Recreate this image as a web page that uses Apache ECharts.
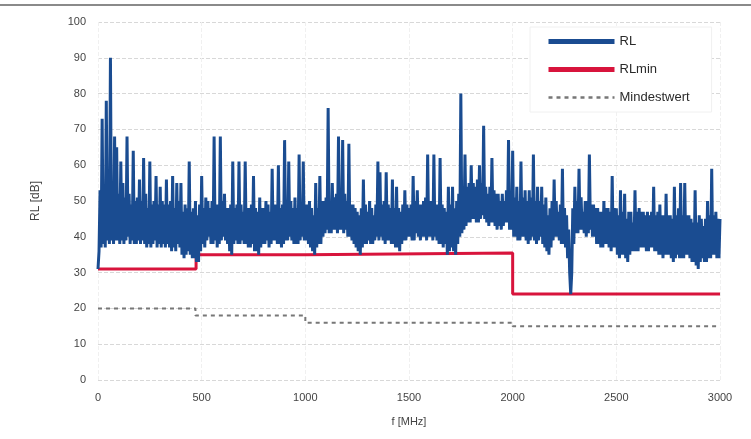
<!DOCTYPE html>
<html>
<head>
<meta charset="utf-8">
<script src="https://cdn.jsdelivr.net/npm/echarts@6/dist/echarts.min.js"></script>
<style>html,body{margin:0;padding:0;background:#fff}#c{width:751px;height:439px}</style>
</head>
<body>
<div id="c"></div>
<script>
// RL upper values (peaks / band top), sampled at 0,10,20,...,3000 MHz
const rlUpperStartMHz = 0;
const rlStepMHz = 10;
const rlUpper = [
  31,53,73,50,78,52,90,51,68,65,
  52,61,55,51,68,52,49,64,50,51,
  56,50,62,52,48,61,49,50,57,49,
  54,50,49,56,49,50,57,48,55,50,
  55,47,49,48,61,47,48,50,46,49,
  57,48,51,50,48,50,68,49,49,68,
  50,52,48,48,49,61,48,49,61,49,
  47,61,48,48,49,57,48,47,51,48,
  48,50,49,47,59,49,49,60,48,49,
  67,49,61,50,48,51,48,63,49,61,
  49,49,50,48,46,55,48,57,50,50,
  51,76,50,55,51,52,68,51,67,52,
  50,66,49,49,48,47,46,48,56,49,
  47,50,48,46,49,61,58,49,50,58,
  49,48,56,48,54,48,47,49,53,49,
  48,49,57,50,53,49,49,50,51,63,
  50,50,63,49,49,62,49,48,47,54,
  49,54,48,50,52,80,52,63,54,55,
  60,55,54,56,60,55,71,54,52,54,
  62,53,52,52,50,52,50,53,67,52,
  64,51,54,50,61,51,53,50,53,51,
  63,50,54,50,54,49,51,46,48,50,
  56,50,47,49,59,48,46,42,24,48,
  54,50,59,51,47,50,50,63,49,49,
  48,48,47,47,50,48,48,47,57,48,
  48,46,53,47,52,45,47,47,44,53,
  47,48,47,47,46,47,46,47,54,46,
  47,49,46,46,52,46,46,45,54,46,
  48,55,46,55,46,46,45,44,53,44,
  46,45,43,45,50,46,59,46,47,45,
  45
];
// RL lower values (troughs), sampled at 5,15,25,...,2995 MHz
const rlLowerStartMHz = 5;
const rlLower = [
  36,37,38,37,39,38,39,38,39,39,
  38,39,38,39,40,38,39,38,38,39,
  38,39,38,37,38,37,38,39,37,38,
  37,38,37,38,37,36,37,36,38,37,
  35,34,35,36,35,34,34,33,33,36,
  38,37,39,40,38,38,39,37,38,39,
  40,39,38,36,35,38,39,38,38,39,
  38,38,37,37,38,36,36,35,37,38,
  38,39,37,38,39,39,38,38,37,38,
  39,39,40,39,38,38,38,39,40,39,
  39,38,37,36,35,37,38,38,40,41,
  42,41,41,42,42,41,42,42,41,42,
  40,40,39,38,37,36,35,37,38,38,
  39,38,38,39,40,39,40,39,38,39,
  39,38,38,37,37,36,38,39,39,40,
  40,39,39,41,40,39,40,40,39,40,
  40,39,40,39,38,38,37,38,35,36,
  37,36,35,38,40,41,42,43,44,44,
  45,45,44,44,45,46,45,44,43,44,
  44,43,42,43,42,43,44,44,42,42,
  40,40,39,39,40,40,39,38,39,40,
  39,38,39,40,38,37,36,35,37,39,
  40,40,39,38,38,37,34,30,30,38,
  41,41,42,42,41,40,41,42,40,40,
  38,38,37,37,38,38,37,36,37,37,
  35,34,35,35,34,33,35,36,36,36,
  36,37,37,37,36,36,37,37,36,36,
  35,35,34,35,35,35,34,33,34,35,
  34,34,34,35,35,34,33,33,32,31,
  33,34,33,33,34,34,35,35,34,34
];
// RLmin step limit: breakpoints (MHz) and levels (dB)
const rlMinFreq  = [0, 473, 473, 1000, 1000, 2000, 2000, 3000];
const rlMinLevel = [31, 31, 35, 35, 35.5, 35.5, 24, 24];
// Mindestwert step line
const minFreq  = [0, 470, 470, 1000, 1000, 2000, 2000, 3000];
const minLevel = [20, 20, 18, 18, 16, 16, 15, 15];

const xTicks = [0, 500, 1000, 1500, 2000, 2500, 3000];
const yTicks = [0, 10, 20, 30, 40, 50, 60, 70, 80, 90, 100];

// interleave upper and lower samples into one trace
const rlData = [];
rlUpper.forEach((v, i) => {
  rlData.push([rlUpperStartMHz + i * rlStepMHz, v]);
  if (i < rlLower.length) rlData.push([rlLowerStartMHz + i * rlStepMHz, rlLower[i]]);
});
const rlMinData = rlMinFreq.map((f, i) => [f, rlMinLevel[i]]);
const minData = minFreq.map((f, i) => [f, minLevel[i]]);

const chart = echarts.init(document.getElementById('c'), null, {renderer: 'canvas'});
const font = 'Liberation Sans, Arial, sans-serif';
chart.setOption({
  animation: false,
  backgroundColor: '#fff',
  grid: {left: 98, right: 31, top: 22, bottom: 59},
  graphic: [
    {type: 'line', shape: {x1: 0, y1: 5, x2: 751, y2: 5}, style: {stroke: '#8a8a8a', lineWidth: 2}}
  ],
  legend: {
    orient: 'vertical',
    left: 530, top: 27,
    itemWidth: 66, itemHeight: 14, itemGap: 15,
    padding: [8, 22, 8, 16],
    backgroundColor: '#fff',
    borderColor: '#f0f0f0', borderWidth: 1,
    textStyle: {fontFamily: font, fontSize: 13, color: '#2a2a2a'},
    data: [
      {name: 'RL', itemStyle: {opacity: 0}, lineStyle: {width: 5}},
      {name: 'RLmin', itemStyle: {opacity: 0}, lineStyle: {width: 5}},
      {name: 'Mindestwert', itemStyle: {opacity: 0}, lineStyle: {width: 2.5}}
    ]
  },
  xAxis: {
    type: 'value', min: 0, max: 3000, interval: 500,
    name: 'f [MHz]', nameLocation: 'middle', nameGap: 36,
    nameTextStyle: {fontFamily: font, fontSize: 11, color: '#444'},
    axisLine: {show: false}, axisTick: {show: false},
    axisLabel: {fontFamily: font, fontSize: 11, color: '#444', margin: 12,
      formatter: v => xTicks.includes(v) ? String(v) : ''},
    splitLine: {show: true, lineStyle: {color: '#f0f0f0', type: 'dashed'}}
  },
  yAxis: {
    type: 'value', min: 0, max: 100, interval: 10,
    name: 'RL [dB]', nameLocation: 'middle', nameGap: 56,
    nameTextStyle: {fontFamily: font, fontSize: 12, color: '#444'},
    axisLine: {show: false}, axisTick: {show: false},
    axisLabel: {fontFamily: font, fontSize: 11, color: '#444', margin: 12,
      formatter: v => yTicks.includes(v) ? String(v) : ''},
    splitLine: {show: true, lineStyle: {color: '#d8d8d8', type: 'dashed', width: 1}}
  },
  series: [
    {
      name: 'RL', type: 'line', data: rlData, showSymbol: false, symbol: 'none',
      itemStyle: {color: '#1a4c91'},
      lineStyle: {color: '#1a4c91', width: 3}, z: 3
    },
    {
      name: 'RLmin', type: 'line', data: rlMinData, showSymbol: false, symbol: 'none',
      itemStyle: {color: '#d8143c'},
      lineStyle: {color: '#d8143c', width: 3}, z: 2
    },
    {
      name: 'Mindestwert', type: 'line', data: minData, showSymbol: false, symbol: 'none',
      itemStyle: {color: '#777'},
      lineStyle: {color: '#777', width: 2, type: [4, 4]}, z: 2
    }
  ]
});
</script>
</body>
</html>
